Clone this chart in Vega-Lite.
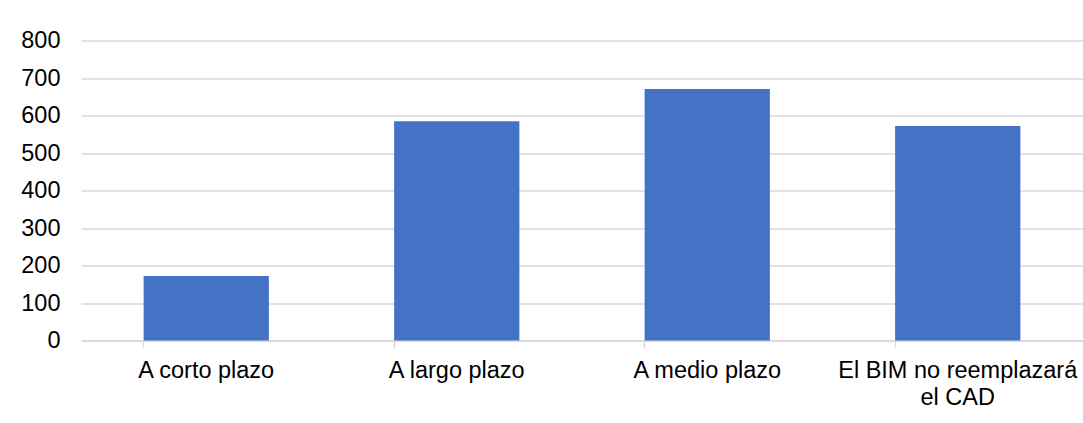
{
  "$schema": "https://vega.github.io/schema/vega-lite/v6.json",
  "autosize": {"type": "none"},
  "padding": {"left": 81, "top": 40.5, "right": 0, "bottom": 82.5},
  "width": 1002,
  "height": 300,
  "background": "#ffffff",
  "config": {
    "view": {"stroke": null},
    "font": "Liberation Sans",
    "axis": {"labelFont": "Liberation Sans", "labelColor": "#000000", "labelFontSize": 23.5}
  },
  "data": {
    "values": [
      {"categoria": "A corto plazo", "valor": 172},
      {"categoria": "A largo plazo", "valor": 585},
      {"categoria": "A medio plazo", "valor": 671},
      {"categoria": "El BIM no reemplazará el CAD", "valor": 572}
    ]
  },
  "mark": {"type": "bar", "color": "#4472C4"},
  "encoding": {
    "x": {
      "field": "categoria",
      "type": "nominal",
      "sort": null,
      "scale": {"paddingInner": 0.5, "paddingOuter": 0.25},
      "axis": {
        "title": null,
        "labelAngle": 0,
        "bandPosition": 0,
        "domainColor": "#d9d9d9",
        "domainWidth": 1.5,
        "tickColor": "#d9d9d9",
        "tickWidth": 1.5,
        "tickSize": 7,
        "labelPadding": 11,
        "labelLimit": 0,
        "labelLineHeight": 26.5,
        "labelExpr": "datum.label == 'El BIM no reemplazará el CAD' ? ['El BIM no reemplazará', 'el CAD'] : datum.label"
      }
    },
    "y": {
      "field": "valor",
      "type": "quantitative",
      "scale": {"domain": [0, 800], "nice": false},
      "axis": {
        "title": null,
        "values": [0, 100, 200, 300, 400, 500, 600, 700, 800],
        "domain": false,
        "ticks": false,
        "labelPadding": 21,
        "gridColor": "#d9d9d9",
        "gridWidth": 1.5
      }
    }
  }
}
